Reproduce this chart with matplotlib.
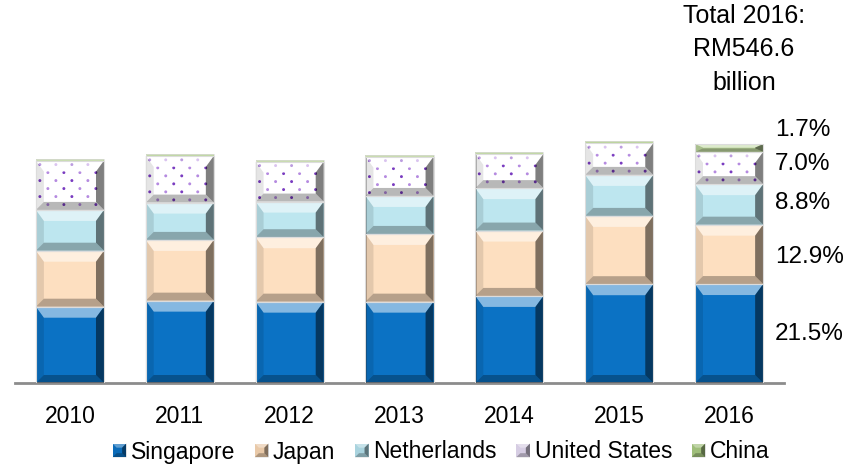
import matplotlib
matplotlib.use("Agg")
import matplotlib.pyplot as plt
from matplotlib.patches import Polygon, Rectangle
from matplotlib.legend_handler import HandlerBase
import numpy as np

plt.rcParams["font.family"] = ["Liberation Sans", "DejaVu Sans"]

# Malaysia's top export destinations, RM billion
years = ["2010", "2011", "2012", "2013", "2014", "2015", "2016"]
countries = ["Singapore", "Japan", "Netherlands", "United States", "China"]

singapore = [90.6, 97.8, 96.6, 96.6, 103.4, 117.3, 117.5]
japan = [66.5, 72.1, 76.5, 80.4, 77.6, 81.1, 70.5]
netherlands = [48.4, 44.3, 42.3, 45.1, 50.4, 48.7, 48.1]
united_states = [58.6, 55.5, 47.5, 46.7, 40.7, 37.7, 38.3]
china = [1.7, 2.5, 1.7, 1.7, 1.6, 2.7, 9.3]

# 2016 shares of total exports
total_2016 = 546.6
share_2016 = [21.5, 12.9, 8.8, 7.0, 1.7]

series = [singapore, japan, netherlands, united_states, china]
colors = ["#0b72c4", "#fddfc0", "#bde6ef", "#ffffff", "#bcd59c"]
legend_colors = ["#0b6bb8", "#e9c9a8", "#a9d3de", "#d6cde3", "#9fbe7a"]

W, H = 862, 466
fig = plt.figure(figsize=(W / 100, H / 100), dpi=100)
ax_l, ax_r, ax_b, ax_t = 15, 784, 383, 20
YMAX = 431
ax = fig.add_axes([ax_l / W, 1 - ax_b / H, (ax_r - ax_l) / W, (ax_b - ax_t) / H])
ax.set_xlim(-0.5, len(years) - 0.5)
ax.set_ylim(0, YMAX)

x = np.arange(len(years))
bar_w = 0.62

# data units per pixel, used for bevel and dot-texture geometry
xpp = len(years) / (ax_r - ax_l)
ypp = YMAX / (ax_b - ax_t)


def bevel(rect, top_px=11, side_px=8, bottom_px=8):
    x0, y0 = rect.get_x(), rect.get_y()
    w, h = rect.get_width(), rect.get_height()
    x1, y1 = x0 + w, y0 + h
    bx = min(side_px * xpp, w / 2)
    bt = min(top_px * ypp, h * 0.45)
    bb = min(bottom_px * ypp, h * 0.45)
    faces = [
        ([(x0, y1), (x1, y1), (x1 - bx, y1 - bt), (x0 + bx, y1 - bt)], "white", 0.5),
        ([(x0, y0), (x0, y1), (x0 + bx, y1 - bt), (x0 + bx, y0 + bb)], "black", 0.10),
        ([(x1, y0), (x1, y1), (x1 - bx, y1 - bt), (x1 - bx, y0 + bb)], "black", 0.50),
        ([(x0, y0), (x1, y0), (x1 - bx, y0 + bb), (x0 + bx, y0 + bb)], "black", 0.28),
    ]
    for pts, c, a in faces:
        ax.add_patch(Polygon(pts, closed=True, facecolor=c, alpha=a,
                             edgecolor="none", zorder=3))
    # thin dark rim on the left edge
    ax.add_patch(Rectangle((x0, y0), 1.2 * xpp, h, facecolor="black", alpha=0.25,
                           edgecolor="none", zorder=3))
    ax.add_patch(Rectangle((x0, y0), w, h, facecolor="none",
                           edgecolor="#dcdcdc", linewidth=0.8, zorder=4))


def dots(rect):
    # staggered purple dot texture
    x0, y0 = rect.get_x(), rect.get_y()
    w, h = rect.get_width(), rect.get_height()
    dx, dy = 16 * xpp, 8 * ypp
    pts_x, pts_y, cols = [], [], []
    r = 0
    yy = y0 + h - 4 * ypp
    while yy > y0 + 2 * ypp:
        xx = x0 + (4 if r % 2 == 0 else 12) * xpp
        c = 0
        while xx < x0 + w - 2 * xpp:
            pts_x.append(xx)
            pts_y.append(yy)
            cols.append("#7a3cc0" if (r + c) % 2 == 0 else "#b58ae0")
            xx += dx
            c += 1
        yy -= dy
        r += 1
    ax.scatter(pts_x, pts_y, s=4.5, c=cols, linewidths=0, zorder=2.5)


bottom = np.zeros(len(years))
handles = []
for name, vals, col in zip(countries, series, colors):
    bars = ax.bar(x, vals, bar_w, bottom=bottom, color=col,
                  linewidth=0, label=name, zorder=2)
    for rct in bars:
        if name == "United States":
            dots(rct)
        if rct.get_height() > 5:
            bevel(rct)
        else:
            ax.add_patch(Rectangle((rct.get_x(), rct.get_y()), rct.get_width(),
                                   rct.get_height(), facecolor="none",
                                   edgecolor="#dcdcdc", linewidth=0.5, zorder=4))
    handles.append(bars)
    bottom = bottom + np.array(vals)

# percentage labels beside the 2016 bar
last = len(years) - 1
cum = 0.0
label_shift = [0, -2, 1, 3, 13]
for vals, sh, dy in zip(series, share_2016, label_shift):
    mid = cum + vals[last] / 2
    cum += vals[last]
    ax.annotate(f"{sh:.1f}%", xy=(last + 0.42, mid), xytext=(0, dy),
                textcoords="offset points", ha="left", va="center",
                fontsize=17.5, color="#000000", annotation_clip=False)

fig.text(744 / W, 1 - 16 / H, "Total 2016:", ha="center", va="center", fontsize=18)
fig.text(744 / W, 1 - 49 / H, f"RM{total_2016}", ha="center", va="center", fontsize=18)
fig.text(744 / W, 1 - 83 / H, "billion", ha="center", va="center", fontsize=18)

for s in ["top", "left", "right"]:
    ax.spines[s].set_visible(False)
ax.spines["bottom"].set_color("#8c8c8c")
ax.spines["bottom"].set_linewidth(2)
ax.set_yticks([])
ax.set_xticks(x)
ax.set_xticklabels(years, fontsize=16.5)
ax.tick_params(axis="x", length=0, pad=16)


class BevelSquare(HandlerBase):
    def __init__(self, color):
        super().__init__()
        self.color = color

    def create_artists(self, legend, orig_handle, xdescent, ydescent,
                       width, height, fontsize, trans):
        s = min(width, height)
        x0, y0 = -xdescent + (width - s) / 2, -ydescent + (height - s) / 2
        b = s * 0.3
        arts = [Rectangle((x0, y0), s, s, facecolor=self.color, edgecolor="none")]
        faces = [
            ([(x0, y0 + s), (x0 + s, y0 + s), (x0 + s - b, y0 + s - b), (x0 + b, y0 + s - b)], "white", 0.35),
            ([(x0 + s, y0), (x0 + s, y0 + s), (x0 + s - b, y0 + s - b), (x0 + s - b, y0 + b)], "black", 0.45),
            ([(x0, y0), (x0 + s, y0), (x0 + s - b, y0 + b), (x0 + b, y0 + b)], "black", 0.25),
        ]
        for pts, c, a in faces:
            arts.append(Polygon(pts, closed=True, facecolor=c, alpha=a, edgecolor="none"))
        for a in arts:
            a.set_transform(trans)
        return arts


leg = fig.legend(handles=handles, labels=countries, loc="center",
                 bbox_to_anchor=(441 / W, 1 - 452 / H), ncol=5, frameon=False,
                 fontsize=16.5, handlelength=0.6, handleheight=0.6,
                 handletextpad=0.2, columnspacing=0.85, borderaxespad=0,
                 handler_map={h: BevelSquare(c) for h, c in zip(handles, legend_colors)})

fig.savefig("out.png", dpi=100)
